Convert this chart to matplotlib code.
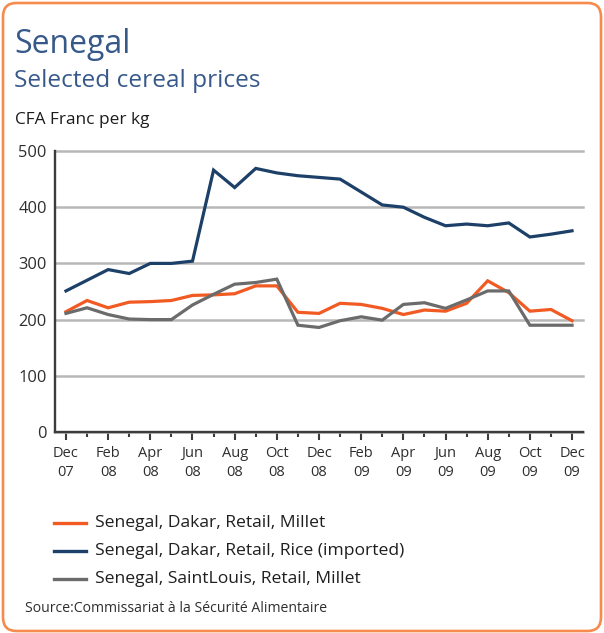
import matplotlib
matplotlib.use("Agg")
import matplotlib.pyplot as plt
from matplotlib.patches import FancyBboxPatch
from matplotlib.lines import Line2D
from matplotlib.ticker import FixedLocator

# monthly retail prices, Dec 2007 .. Dec 2009 (CFA Franc per kg)
dakar_millet = [214, 234, 221, 231, 232, 234, 243, 244, 246, 260, 260, 213, 211,
                229, 227, 220, 209, 217, 215, 229, 269, 248, 215, 218, 198]
dakar_rice = [251, 270, 289, 282, 300, 300, 304, 466, 435, 469, 461, 456, 453,
              450, 427, 404, 400, 382, 367, 370, 367, 372, 347, 352, 358]
stlouis_millet = [211, 221, 209, 201, 200, 200, 226, 245, 263, 266, 272, 190, 186,
                  198, 205, 199, 227, 230, 220, 235, 251, 251, 190, 190, 190]

tick_labels = ["Dec\n07", "Feb\n08", "Apr\n08", "Jun\n08", "Aug\n08", "Oct\n08", "Dec\n08",
               "Feb\n09", "Apr\n09", "Jun\n09", "Aug\n09", "Oct\n09", "Dec\n09"]
series_names = ["Senegal, Dakar, Retail, Millet",
                "Senegal, Dakar, Retail, Rice (imported)",
                "Senegal, SaintLouis, Retail, Millet"]
colors = ["#f15a22", "#1d4068", "#6b6b6b"]

W, H = 604, 633
FONT = "Open Sans"


def fx(px):
    return px / W


def fy(py):
    return 1 - py / H


fig = plt.figure(figsize=(W / 100, H / 100), dpi=100)
fig.patch.set_facecolor("white")

# rounded orange frame round the whole panel
frame = FancyBboxPatch((fx(3), fy(631)), fx(598), 628 / H,
                       boxstyle="round,pad=0,rounding_size=0.022",
                       transform=fig.transFigure, facecolor="none",
                       edgecolor="#f58b4c", linewidth=1.9, zorder=-1)
fig.patches.append(frame)

ax = fig.add_axes([fx(55), fy(432), (583 - 55) / W, (432 - 151) / H])
ax.set_facecolor("none")

x = list(range(len(dakar_rice)))
for vals, col, name in zip([dakar_millet, dakar_rice, stlouis_millet], colors, series_names):
    ax.plot(x, vals, color=col, lw=2.3, solid_joinstyle="miter", label=name, zorder=3)

ax.set_xlim(-0.52, 24.52)
ax.set_ylim(0, 500)
ax.set_yticks([0, 100, 200, 300, 400, 500])
ax.yaxis.grid(True, color="#b8b8b8", lw=1.8)
ax.set_axisbelow(True)
for g in ax.get_ygridlines():
    g.set_clip_on(False)

ax.xaxis.set_major_locator(FixedLocator(range(0, 25, 2)))
ax.xaxis.set_minor_locator(FixedLocator(range(1, 25, 2)))
ax.set_xticklabels(tick_labels, fontfamily=FONT, fontsize=10.5, color="#2e2e2e",
                   linespacing=1.4)
for lab in ax.get_yticklabels():
    lab.set_fontfamily(FONT)
    lab.set_fontsize(11.8)
    lab.set_color("#2e2e2e")

ax.tick_params(axis="y", length=0, pad=6)
ax.tick_params(axis="x", which="major", direction="out", length=6, width=1.5,
               color="#3c3c3c", pad=4)
ax.tick_params(axis="x", which="minor", direction="out", length=3.5, width=1.5,
               color="#3c3c3c")

for s in ["top", "right"]:
    ax.spines[s].set_visible(False)
for s in ["left", "bottom"]:
    ax.spines[s].set_color("#3c3c3c")
    ax.spines[s].set_linewidth(1.7)

# titles
fig.text(fx(14), fy(53), "Senegal", fontfamily=FONT, fontsize=23, color="#36598a",
         va="baseline", ha="left")
fig.text(fx(14), fy(87), "Selected cereal prices", fontfamily=FONT, fontsize=17.6,
         color="#36598a", va="baseline", ha="left")
fig.text(fx(15), fy(124), "CFA Franc per kg", fontfamily=FONT, fontsize=12.4,
         color="#1c1c1c", va="baseline", ha="left")

# legend rows
for line, y in zip(ax.get_lines(), [523, 551, 579]):
    fig.add_artist(Line2D([fx(54), fx(86)], [fy(y), fy(y)], transform=fig.transFigure,
                          color=line.get_color(), lw=2.4))
    fig.text(fx(95), fy(y), line.get_label(), fontfamily=FONT, fontsize=12.6,
             color="#1e1e1e", va="center", ha="left")

fig.text(fx(25), fy(609), "Source:Commissariat \u00e0 la S\u00e9curit\u00e9 Alimentaire",
         fontfamily=FONT, fontsize=10.1, color="#2e2e2e", va="center", ha="left")

fig.savefig("out.png", dpi=100)
